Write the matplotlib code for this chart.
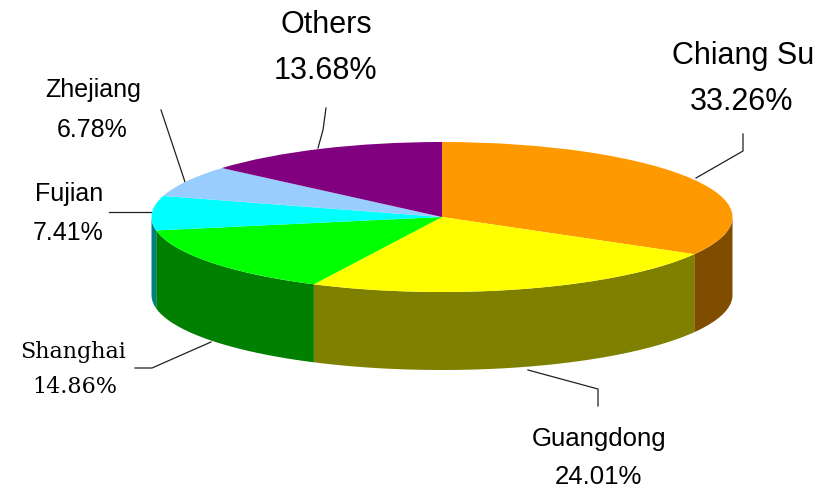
import numpy as np
import matplotlib
matplotlib.use('Agg')
import matplotlib.pyplot as plt
from matplotlib.transforms import Affine2D

# Data
regions = ['Chiang Su', 'Guangdong', 'Shanghai', 'Fujian', 'Zhejiang', 'Others']
shares = [33.26, 24.01, 14.86, 7.41, 6.78, 13.68]
top_colors = ['#FF9900', '#FFFF00', '#00FF00', '#00FFFF', '#99CCFF', '#800080']
side_colors = ['#804D00', '#808000', '#008000', '#008080', '#4D6680', '#400040']

# Pie geometry in image pixels
cx, cy = 442, 217
rx, ry = 290.5, 75
depth = 78

fig = plt.figure(figsize=(8.32, 4.88), dpi=100)
ax = fig.add_axes([0, 0, 1, 1])

# Top face, the unit pie squashed into an ellipse
wedges, _ = ax.pie(shares, colors=top_colors, startangle=90, counterclock=False)
squash = Affine2D().scale(rx, -ry).translate(cx, cy) + ax.transData
for w in wedges:
    w.set_transform(squash)
    w.set_zorder(3)
    w.set_edgecolor('none')

ax.set_aspect('auto')
ax.set_xlim(0, 832)
ax.set_ylim(488, 0)
ax.axis('off')

# Side wall, only the front half (90 to 270 deg clockwise from top) is visible
edges = np.concatenate([[0], np.cumsum(shares)]) * 3.6
for i, color in enumerate(side_colors):
    a = max(edges[i], 90)
    b = min(edges[i + 1], 270)
    if a >= b:
        continue
    t = np.radians(np.linspace(a, b, 80))
    x = cx + rx * np.sin(t)
    y = cy - ry * np.cos(t)
    ax.fill(np.r_[x, x[::-1]], np.r_[y, y[::-1] + depth], color=color, lw=0, zorder=2)

# Leader lines
leaders = [
    ([743, 743, 696], [134, 151, 178]),
    ([598, 598, 528], [406, 389, 370]),
    ([135, 152, 211], [368, 368, 342]),
    ([109, 151], [212, 212]),
    ([161, 185], [110, 182]),
    ([326, 323, 318], [108, 130, 148]),
]
for lx, ly in leaders:
    ax.plot(lx, ly, color='#202020', lw=0.9, zorder=1)

# Labels: name centre, percent centre, font, size
label_style = [
    ((743, 56), (742, 102), 'Liberation Sans', 22),
    ((599, 439), (598, 477), 'Liberation Sans', 18.5),
    ((73, 352), (75, 387), 'DejaVu Serif', 16),
    ((69, 194), (68, 233), 'Liberation Sans', 18),
    ((93, 90), (92, 130), 'Liberation Sans', 18),
    ((326, 25), (325, 71), 'Liberation Sans', 22),
]
for name, share, (p1, p2, fam, size) in zip(regions, shares, label_style):
    ax.text(p1[0], p1[1], name, ha='center', va='center', family=fam, fontsize=size, color='black')
    ax.text(p2[0], p2[1], f'{share:.2f}%', ha='center', va='center', family=fam, fontsize=size, color='black')

plt.savefig('out.png', dpi=100)
plt.close()
